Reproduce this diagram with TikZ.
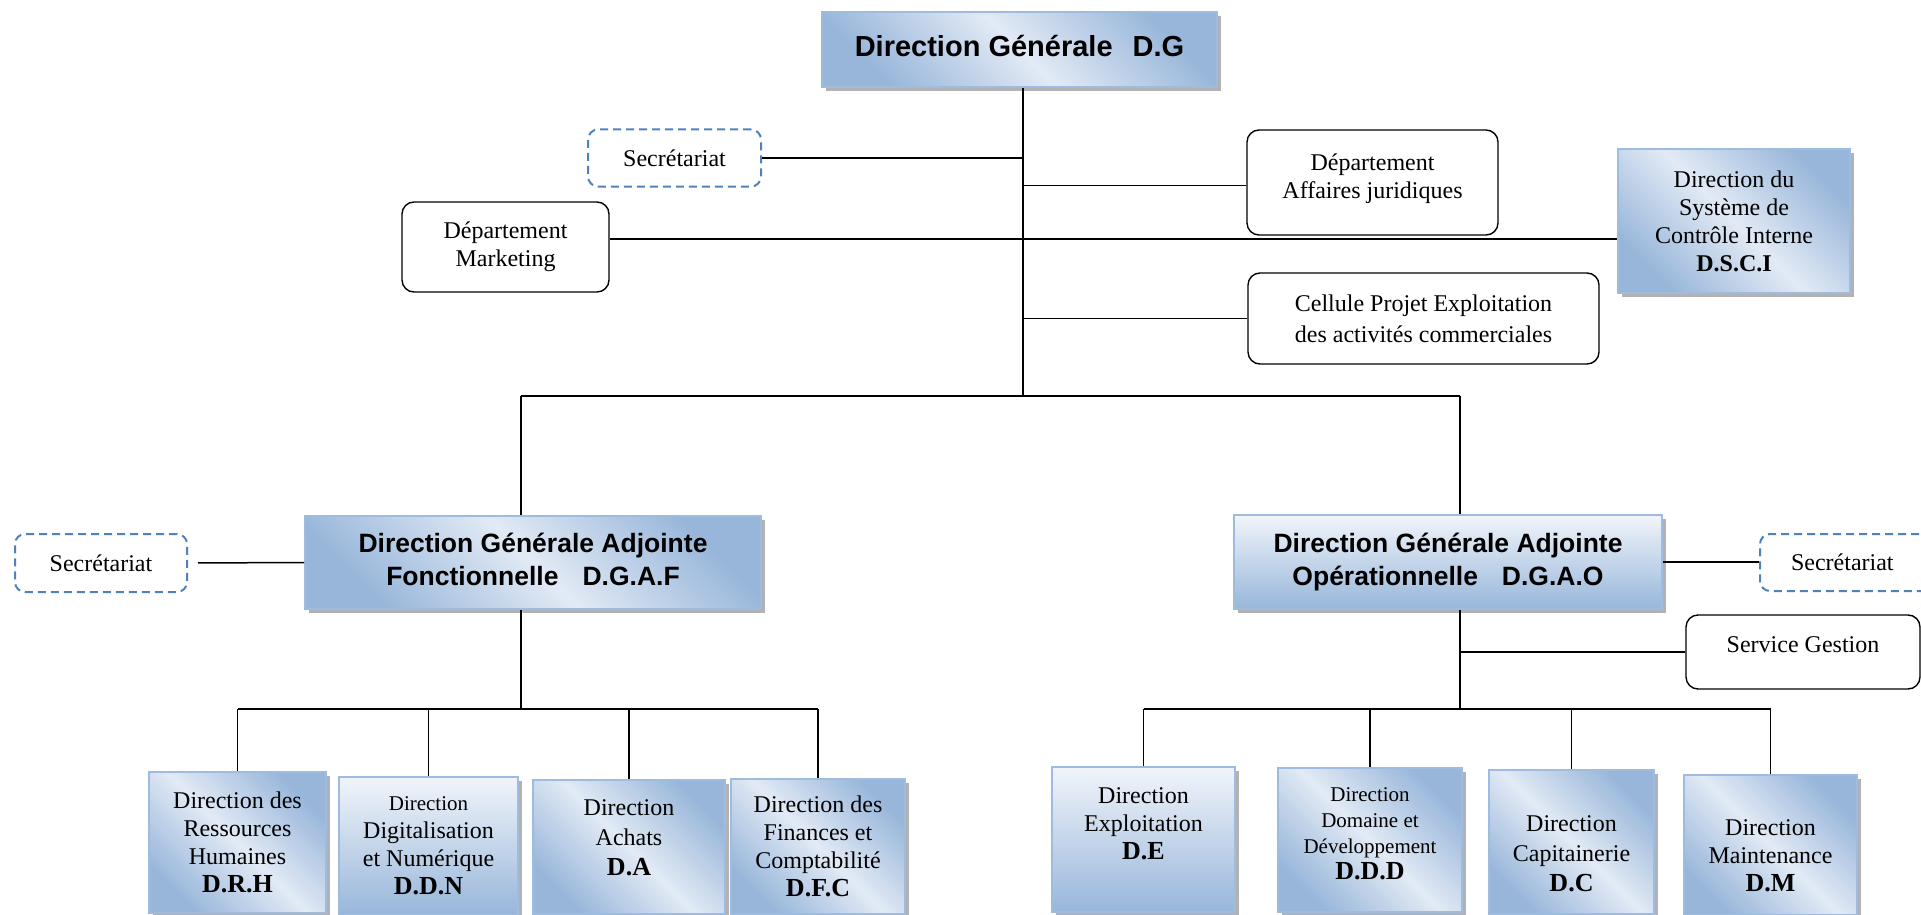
\documentclass[tikz,border=0pt]{standalone}
\usepackage{fontspec}
\setmainfont{Liberation Serif}
\newfontfamily\headfont{Liberation Sans}
\usetikzlibrary{shadows}
\definecolor{bleufonce}{HTML}{98B6DA}
\definecolor{bleuclair}{HTML}{E2EAF5}
\definecolor{bordbleu}{HTML}{9DBCE0}
\definecolor{secbleu}{HTML}{4F81BD}
\pgfdeclarehorizontalshading{diagbleu}{100bp}{color(0bp)=(bleufonce); color(25bp)=(bleufonce); color(50bp)=(bleuclair); color(75bp)=(bleufonce); color(100bp)=(bleufonce)}
\tikzset{
  dirbox/.style={draw=bordbleu, line width=2pt, shading=diagbleu, shading angle=45,
    drop shadow={shadow xshift=4pt, shadow yshift=-4pt, fill=black!30, opacity=1},
    align=center, inner sep=2pt, font=\fontsize{24}{28}\selectfont},
  dirboxv/.style={dirbox, top color=bleuclair!50!white, bottom color=bleufonce},
  headbox/.style={dirbox, font=\headfont\bfseries\fontsize{26.5}{33}\selectfont},
  depbox/.style={draw, line width=1.4pt, rounded corners=12pt, align=center,
    font=\fontsize{24}{28}\selectfont},
  secbox/.style={draw=secbleu, line width=2pt, dash pattern=on 8pt off 5pt,
    rounded corners=10pt, font=\fontsize{24}{28}\selectfont},
  lien/.style={line width=1.5pt}
}
\newcommand{\sigle}[1]{{\bfseries\fontsize{26}{28}\selectfont #1}}
% decalage vertical du texte dans une boite
\newcommand{\monte}[1]{\rule[-#1]{0pt}{0pt}}
\newcommand{\descend}[1]{\rule{0pt}{#1}}
\begin{document}
\begin{tikzpicture}[x=1pt,y=-1pt]
\useasboundingbox (0,0) rectangle (1921,915);
% direction generale et rattachements
\node[headbox, minimum width=395pt, minimum height=75pt,
  font=\headfont\bfseries\fontsize{29}{34}\selectfont] (DG) at (1019.5,49.5) {Direction Générale\hspace{20pt}D.G\monte{8pt}};
\node[secbox, minimum width=173pt, minimum height=57pt] (SecT) at (674.5,158) {Secrétariat};
\node[depbox, minimum width=251pt, minimum height=105pt] (Jur) at (1372.5,182.5) {Département\\Affaires juridiques\monte{12pt}};
\node[depbox, minimum width=207pt, minimum height=90pt] (Mkt) at (505.5,247) {Département\\Marketing};
\node[dirbox, minimum width=232pt, minimum height=144pt] (DSCI) at (1734,221) {Direction du\\Système de\\Contrôle Interne\\\textbf{D.S.C.I}};
\node[depbox, minimum width=351pt, minimum height=91pt, font=\fontsize{24}{31}\selectfont] (Cel) at (1423.5,318.5) {Cellule Projet Exploitation\\des activités commerciales};
% directions generales adjointes
\node[headbox, minimum width=456pt, minimum height=93pt] (DGAF) at (533,562.5) {Direction Générale Adjointe\\Fonctionnelle\hspace{24pt}D.G.A.F\monte{6pt}};
\node[secbox, minimum width=172pt, minimum height=58pt] (SecL) at (101,563) {Secrétariat};
\node[headbox, dirboxv, font=\headfont\bfseries\fontsize{26.5}{33}\selectfont,
  minimum width=428pt, minimum height=94pt] (DGAO) at (1448,562) {Direction Générale Adjointe\\Opérationnelle\hspace{24pt}D.G.A.O};
\node[secbox, minimum height=57pt, text width=120pt, inner xsep=31pt, align=left] (SecR) at (1851,562.5) {Secrétariat};
\node[depbox, minimum width=234pt, minimum height=74pt] (Svc) at (1803,652) {Service Gestion\monte{14pt}};
% directions fonctionnelles
\node[dirbox, minimum width=177pt, minimum height=141pt] (DRH) at (237.5,842.5) {Direction des\\Ressources\\Humaines\\\sigle{D.R.H}};
\node[dirboxv, minimum width=179pt, minimum height=138pt] (DDN) at (428.5,846) {{\fontsize{21}{24}\selectfont Direction}\\Digitalisation\\et Numérique\\\sigle{D.D.N}};
\node[dirbox, minimum width=192pt, minimum height=134pt, font=\fontsize{24}{30}\selectfont] (DA) at (629,847) {Direction\\Achats\\\sigle{D.A}\monte{18pt}};
\node[dirbox, minimum width=174pt, minimum height=135pt] (DFC) at (818,846) {Direction des\\Finances et\\Comptabilité\\\sigle{D.F.C}};
% directions operationnelles
\node[dirboxv, minimum width=183pt, minimum height=145pt] (DE) at (1143.5,839.5) {Direction\\Exploitation\\\sigle{D.E}\monte{32pt}};
\node[dirbox, minimum width=184pt, minimum height=144pt, font=\fontsize{21}{26}\selectfont] (DDD) at (1370,840) {Direction\\Domaine et\\Développement\\\sigle{D.D.D}\monte{12pt}};
\node[dirbox, minimum width=165pt, minimum height=144pt, font=\fontsize{24}{30}\selectfont] (DC) at (1571.5,842) {\descend{40pt}Direction\\Capitainerie\\\sigle{D.C}};
\node[dirbox, minimum width=173pt, minimum height=140pt, font=\fontsize{24}{28}\selectfont] (DM) at (1770.5,845) {\descend{38pt}Direction\\Maintenance\\\sigle{D.M}};
% liaisons
\coordinate (tr) at (1023,396);
\coordinate (t2) at (1023,239);
\coordinate (jf) at (521,396);
\coordinate (jo) at (1460,396);
\coordinate (bf) at (521,709);
\coordinate (bo) at (1460,709);
\draw[lien] (DG.south -| tr) -- (tr);
\draw[lien] (SecT.east) -- (SecT.east -| tr);
\draw[lien] ([yshift=-3pt]Jur.west) -- ([yshift=-3pt]Jur.west -| tr);
\draw[lien] (Mkt.east |- t2) -- (DSCI.west |- t2);
\draw[lien] (Cel.west) -- (Cel.west -| tr);
\draw[lien] (jf) -- (jo);
\draw[lien] (jf) -- (jf |- DGAF.north);
\draw[lien] (jo) -- (jo |- DGAO.north);
\draw[lien, shorten <=10pt] (SecL.east) -- (DGAF.west);
\draw[lien] (DGAO.east) -- (DGAO.east -| SecR.west);
\draw[lien] (bf |- DGAF.south) -- (bf);
\draw[lien] (DRH.north |- bf) -- (DFC.north |- bf);
\draw[lien] (DRH.north) -- (DRH.north |- bf);
\draw[lien] (DDN.north) -- (DDN.north |- bf);
\draw[lien] (DA.north) -- (DA.north |- bf);
\draw[lien] (DFC.north) -- (DFC.north |- bf);
\draw[lien] (bo |- DGAO.south) -- (bo);
\draw[lien] (Svc.west -| bo) -- (Svc.west);
\draw[lien] (DE.north |- bo) -- (DM.north |- bo);
\draw[lien] (DE.north) -- (DE.north |- bo);
\draw[lien] (DDD.north) -- (DDD.north |- bo);
\draw[lien] (DC.north) -- (DC.north |- bo);
\draw[lien] (DM.north) -- (DM.north |- bo);
\end{tikzpicture}
\end{document}
